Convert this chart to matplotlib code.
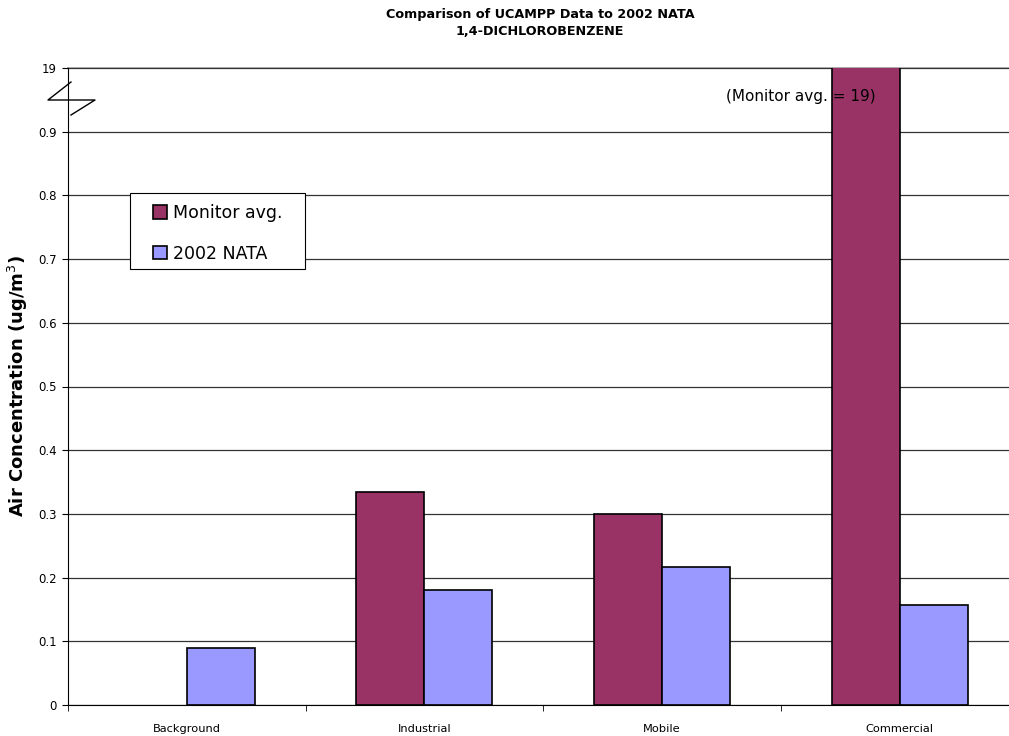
import numpy as np
import matplotlib.pyplot as plt
from matplotlib.patches import Rectangle

categories = ["Background", "Industrial", "Mobile", "Commercial"]
monitor_avg = [0.0, 0.335, 0.30, 19.0]
nata_2002 = [0.09, 0.18, 0.217, 0.157]
ytick_vals = [0, 0.1, 0.2, 0.3, 0.4, 0.5, 0.6, 0.7, 0.8, 0.9, 1.0]
ytick_text = ["0", "0.1", "0.2", "0.3", "0.4", "0.5", "0.6", "0.7", "0.8", "0.9", "19"]

plt.rcParams["font.family"] = ["DejaVu Sans"]

W, H = 1009, 736
fig = plt.figure(figsize=(W / 100, H / 100), dpi=100)
ax = fig.add_axes([68 / W, 1 - 705 / H, (W - 68) / W, (705 - 68) / H])

x = np.arange(len(categories))
bw = 0.286
b1 = ax.bar(x - bw / 2, monitor_avg, bw, color="#993366", edgecolor="black", lw=1.2,
            label="Monitor avg.")
b2 = ax.bar(x + bw / 2, nata_2002, bw, color="#9999FF", edgecolor="black", lw=1.2,
            label="2002 NATA")
# no outline on empty bars
for p, v in zip(b1.patches, monitor_avg):
    if v == 0:
        p.set_linewidth(0)

ax.set_yticks(ytick_vals)
ax.set_yticklabels(ytick_text, fontsize=8.5)
ax.set_xticks(x)
ax.set_xticklabels(categories, fontsize=8.2)
ax.set_xticks(np.arange(-0.5, 4, 1), minor=True)
ax.set_ylim(0, 1.0)
ax.set_xlim(-0.5, 3.46)
ax.tick_params(axis="x", which="major", length=0, pad=14)
ax.tick_params(axis="x", which="minor", length=4, direction="out")
ax.tick_params(axis="y", length=4, direction="out", pad=4)

ax.yaxis.grid(True, color="#333333", lw=0.9)
ax.set_axisbelow(True)
for s in ["top", "right"]:
    ax.spines[s].set_visible(False)
ax.spines["left"].set_color("black")
ax.spines["bottom"].set_color("black")
ax.axhline(1.0, color="#999999", lw=1.2, clip_on=False, zorder=0)

ax.set_ylabel("Air Concentration (ug/m$^3$)", fontsize=13, fontweight="bold", labelpad=6)
fig.text(540 / W, 1 - 23 / H, "Comparison of UCAMPP Data to 2002 NATA\n1,4-DICHLOROBENZENE",
         ha="center", va="center", fontsize=9.2, fontweight="bold", linespacing=1.35)

ax.text(0.779, 0.955, "(Monitor avg. = 19)", transform=ax.transAxes, fontsize=11,
        ha="center", va="center")

# axis break mark
bx = np.array([71, 48, 95, 71]) / W
by = 1 - np.array([82, 100, 100, 115]) / H
fig.add_artist(plt.Line2D(bx, by, color="black", lw=1.0))

# legend box drawn separately so it can be wider than its entries
fig.add_artist(Rectangle((130 / W, 1 - 269 / H), 175 / W, 76 / H, transform=fig.transFigure,
                         facecolor="white", edgecolor="black", lw=0.8, zorder=5))
handles = [Rectangle((0, 0), 1, 1, facecolor="#993366", edgecolor="black", lw=1.2),
           Rectangle((0, 0), 1, 1, facecolor="#9999FF", edgecolor="black", lw=1.2)]
leg = fig.legend(handles, ["Monitor avg.", "2002 NATA"], loc="upper left",
                 bbox_to_anchor=(153 / W, 1 - 204 / H), fontsize=12.5, frameon=False,
                 handlelength=0.8, handleheight=0.8, handletextpad=0.35,
                 labelspacing=1.3, borderpad=0, borderaxespad=0)
leg.set_zorder(6)

fig.savefig("out.png", dpi=100)
